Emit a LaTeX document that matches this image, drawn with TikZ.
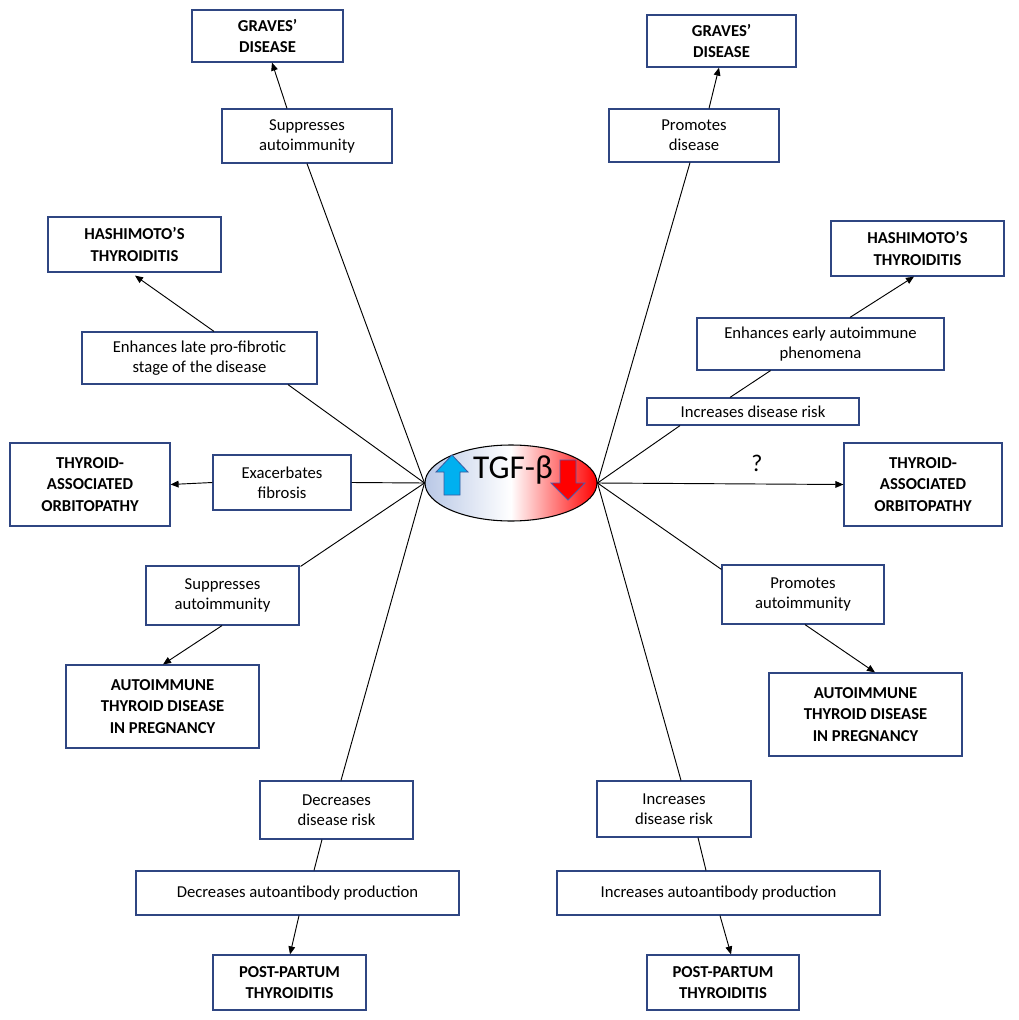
\documentclass[tikz,border=0pt]{standalone}
\usepackage{fontspec}
\setmainfont{Carlito}
\usetikzlibrary{calc,arrows.meta,shapes.geometric}
\definecolor{bord}{RGB}{47,70,130}
\begin{document}
\begin{tikzpicture}[x=0.75pt,y=-0.75pt,
 box/.style={draw=bord,line width=0.9pt,fill=white,align=center,inner sep=1pt,font=\fontsize{12.5}{15}\selectfont},
 bbox/.style={box,font=\fontsize{12.5}{16}\selectfont\bfseries},
 ln/.style={black,line width=0.7pt},
 ar/.style={ln,-{Triangle[length=6pt,width=5pt]}}]
\useasboundingbox (0,0) rectangle (1018,1020);
\fill[white] (0,0) rectangle (1018,1020);
\def\bx#1#2#3#4#5#6#7{\node[#1,minimum width=#5*0.75pt,minimum height=#6*0.75pt] (#2) at (#3,#4) {#7};}
\bx{bbox}{graveL}{267.5}{36}{151}{52}{GRAVES’\\DISEASE}
\bx{box}{sup1}{307}{136}{170}{54}{Suppresses\\autoimmunity}
\bx{bbox}{hashL}{134.5}{244.5}{173}{55}{HASHIMOTO’S\\THYROIDITIS}
\bx{box}{enh}{199.5}{358}{235}{52}{Enhances late pro-fibrotic\\stage of the disease}
\bx{bbox}{taoL}{90}{484.5}{160}{83}{THYROID-\\ASSOCIATED\\ORBITOPATHY}
\bx{box}{exa}{282}{482.5}{138}{55}{Exacerbates\\fibrosis}
\bx{box}{sup2}{222.5}{595.5}{153}{59}{Suppresses\\autoimmunity}
\bx{bbox}{aitdL}{162.5}{706.5}{193}{83}{AUTOIMMUNE\\THYROID DISEASE\\IN PREGNANCY}
\bx{box}{decR}{336.5}{810}{153}{58}{Decreases\\disease risk}
\bx{box}{decA}{297.5}{893}{323}{44}{Decreases autoantibody production}
\bx{bbox}{pptL}{289.5}{982.5}{153}{55}{POST-PARTUM\\THYROIDITIS}
\bx{bbox}{graveR}{721.5}{41}{149}{52}{GRAVES’\\DISEASE}
\bx{box}{prom}{694}{135.5}{170}{53}{Promotes\\disease}
\bx{bbox}{hashR}{917.5}{248.5}{173}{55}{HASHIMOTO’S\\THYROIDITIS}
\bx{box}{enhE}{820.5}{344}{247}{52}{Enhances early autoimmune\\phenomena}
\bx{box}{incT}{753}{411.5}{212}{27}{Increases disease risk}
\bx{bbox}{taoR}{923}{484.5}{158}{83}{THYROID-\\ASSOCIATED\\ORBITOPATHY}
\bx{box}{promA}{803}{594.5}{162}{59}{Promotes\\autoimmunity}
\bx{bbox}{aitdR}{865.5}{714.5}{193}{83}{AUTOIMMUNE\\THYROID DISEASE\\IN PREGNANCY}
\bx{box}{incB}{674}{809}{154}{56}{Increases\\disease risk}
\bx{box}{incA}{718.5}{893}{323}{44}{Increases autoantibody production}
\bx{bbox}{pptR}{723}{982.5}{152}{55}{POST-PARTUM\\THYROIDITIS}
% central ellipse
\node[draw,ellipse,line width=0.8pt,minimum width=172*0.75pt,minimum height=76*0.75pt,
  left color={rgb,255:red,185;green,200;blue,230},right color=red,middle color=white,inner sep=0] (tgf) at (511,483) {};
\node[font=\fontsize{25}{27}\selectfont] (tgft) at (513,470) {TGF-β};
\draw[fill={rgb,255:red,0;green,176;blue,240},draw={rgb,255:red,60;green,90;blue,160},line width=0.6pt]
 (452,455)--(468,472)--(460,472)--(460,495)--(444,495)--(444,472)--(436,472)--cycle;
\draw[fill=red,draw={rgb,255:red,80;green,90;blue,170},line width=0.6pt]
 (568,500)--(585,483)--(576,483)--(576,460)--(560,460)--(560,483)--(551,483)--cycle;
\node[font=\fontsize{18}{20}\selectfont] (q) at (757,463) {?};
\begin{scope}[ln]
\draw (tgf.west) -- (sup1.south);
\draw (tgf.west) -- ($(enh.south)+(88.5,0)$);
\draw (tgf.west) -- (exa.east);
\draw (tgf.west) -- ($(sup2.north east)+(1,1)$);
\draw (tgf.west) -- ($(decR.north)+(4.5,0)$);
\draw ($(decR.south)+(-14.5,0)$) -- ($(decA.north)+(16.5,0)$);
\draw (tgf.east) -- ($(prom.south)+(-4,0)$);
\draw (tgf.east) -- ($(incT.south)+(-73,0)$);
\draw (tgf.east) -- ($(promA.north west)+(0,5)$);
\draw (tgf.east) -- ($(incB.north)+(7,0)$);
\draw ($(incT.north)+(-23,0)$) -- ($(enhE.south)+(-50,0)$);
\draw ($(incB.south)+(24,0)$) -- ($(incA.north)+(-12.5,0)$);
\end{scope}
\draw[ar] ($(sup1.north)+(-20,0)$) -- ($(graveL.south)+(4.5,0)$);
\draw[ar] ($(enh.north)+(14.5,0)$) -- ($(hashL.south)+(0.5,3)$);
\draw[ar] (exa.west) -- (taoL.east);
\draw[ar] ($(sup2.south)+(-0.5,0)$) -- ($(aitdL.north)+(0.5,0)$);
\draw[ar] ($(decA.south)+(1.5,0)$) -- ($(pptL.north)+(0.5,0)$);
\draw[ar] ($(prom.north)+(15,0)$) -- ($(graveR.south)+(-2.5,0)$);
\draw[ar] ($(enhE.north)+(29.5,0)$) -- ($(hashR.south)+(-3.5,0)$);
\draw[ar] (tgf.east) -- (taoR.west);
\draw[ar] ($(promA.south)+(2,0)$) -- ($(aitdR.north)+(9.5,0)$);
\draw[ar] ($(incA.south)+(1.5,0)$) -- ($(pptR.north)+(8,0)$);
\end{tikzpicture}
\end{document}
